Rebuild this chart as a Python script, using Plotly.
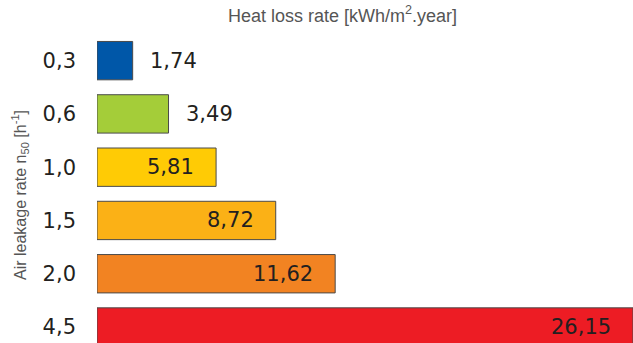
import plotly.graph_objects as go

# Air leakage rate n50 [h-1] vs. resulting heat loss rate [kWh/m2.year]
leakage_labels = ["0,3", "0,6", "1,0", "1,5", "2,0", "4,5"]
heat_loss = [1.74, 3.49, 5.81, 8.72, 11.62, 26.15]
value_labels = ["1,74", "3,49", "5,81", "8,72", "11,62", "26,15"]
bar_colors = ["#0057A8", "#A4CD39", "#FFCB05", "#FBB116", "#F28322", "#ED1C24"]

W, H = 633, 343
M_L, M_T = 97, 34
plot_h = H - M_T
plot_w = W - M_L
NUM_FONT = "DejaVu Sans, Liberation Sans, Arial"

fig = go.Figure(
    go.Bar(
        x=heat_loss,
        y=leakage_labels,
        orientation="h",
        marker=dict(color=bar_colors, line=dict(color="#4a4a4a", width=1)),
        hoverinfo="skip",
    )
)

# value labels: short bars get the label outside, longer bars inside near the end
for v, cat, lab in zip(heat_loss, leakage_labels, value_labels):
    outside = v < 5
    fig.add_annotation(
        x=v, y=cat, xref="x", yref="y", text=lab, showarrow=False,
        xanchor="left" if outside else "right",
        xshift=15 if outside else -20,
        font=dict(size=21, color="#231f20", family=NUM_FONT),
    )

# chart title
fig.add_annotation(
    x=(342 - M_L) / plot_w, y=1 + 19 / plot_h, xref="paper", yref="paper",
    text="Heat loss rate [kWh/m<sup>2</sup>.year]",
    showarrow=False, xanchor="center", yanchor="middle",
    font=dict(size=18, color="#555555", family="Liberation Sans Narrow, Liberation Sans, Arial"),
)

# y-axis title
fig.add_annotation(
    x=(20 - M_L) / plot_w, y=1 - (195 - M_T) / plot_h, xref="paper", yref="paper",
    text="Air leakage rate n<sub>50</sub> [h<sup>-1</sup>]", textangle=-90,
    showarrow=False, xanchor="center", yanchor="middle",
    font=dict(size=16, color="#555555", family="Liberation Sans Narrow, Liberation Sans, Arial"),
)

fig.update_layout(
    width=W, height=H,
    margin=dict(l=M_L, r=0, t=M_T, b=0, pad=0),
    paper_bgcolor="white", plot_bgcolor="white",
    bargap=0.28,
    showlegend=False,
    font=dict(family="Liberation Sans, Arial, sans-serif"),
    xaxis=dict(range=[0, 26.15], visible=False, fixedrange=True),
    yaxis=dict(
        type="category", categoryorder="array", categoryarray=leakage_labels,
        range=[5.3, -0.5], showgrid=False, zeroline=False, showline=False,
        ticks="", ticklabelstandoff=20,
        tickfont=dict(size=21, color="#231f20", family=NUM_FONT),
        fixedrange=True,
    ),
)

fig.write_html("out.html", config={"displayModeBar": False})
